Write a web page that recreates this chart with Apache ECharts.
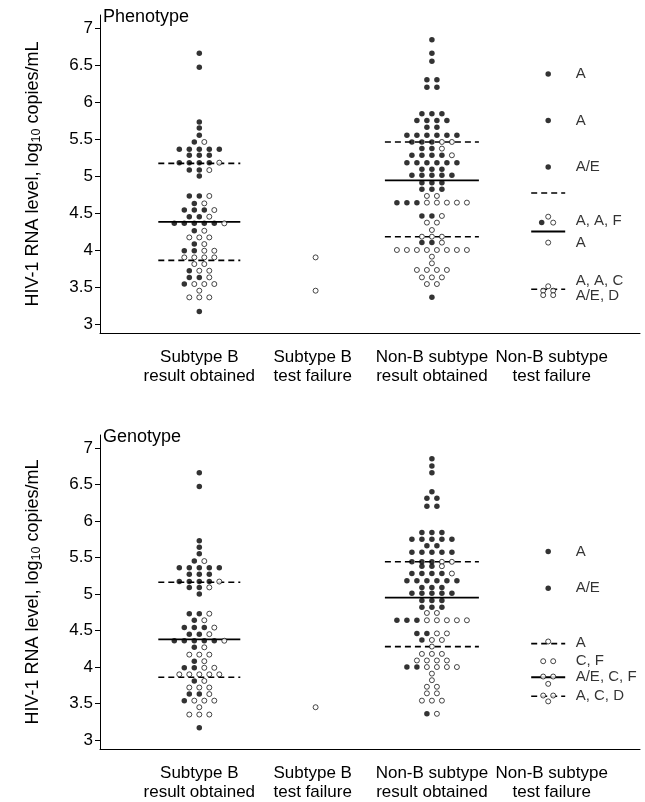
<!DOCTYPE html>
<html><head><meta charset="utf-8">
<script src="https://cdn.jsdelivr.net/npm/echarts@6/dist/echarts.min.js"></script>
<style>html,body{margin:0;padding:0;background:#fff}#c{width:645px;height:802px}</style>
</head><body><div id="c"></div>
<script>
// ---------- DATA ----------
const categories = ['Subtype B\nresult obtained', 'Subtype B\ntest failure', 'Non-B subtype\nresult obtained', 'Non-B subtype\ntest failure'];
const yTicks = [3, 3.5, 4, 4.5, 5, 5.5, 6, 6.5, 7];
const panelTitles = ['Phenotype', 'Genotype'];
// rows: [log10 copies/mL, filled-dot slots, open-dot slots]  (slot = column position in the swarm)
const phenoSubB = [
  [6.66,[0],[]],[6.47,[0],[]],[5.73,[0],[]],[5.65,[0],[]],[5.55,[0],[]],[5.46,[-1],[1]],
  [5.36,[-4,-2,0,2,4],[]],[5.28,[-2,0,2],[]],[5.18,[-4,-2,0,2],[4]],[5.08,[-2,0],[2]],[5.00,[0],[]],
  [4.73,[-2,0],[2]],[4.63,[-1],[1]],[4.54,[-3,-1,1],[3]],[4.45,[-2,0],[2]],[4.36,[-5,-3,-1,1,3],[5]],
  [4.26,[-1],[1]],[4.17,[],[-2,0,2]],[4.08,[-1],[1]],[3.99,[-3,-1],[1,3]],[3.90,[],[-3,-1,1,3]],
  [3.81,[],[-1,1]],[3.72,[-2],[0,2]],[3.63,[-2,0],[2]],[3.54,[-3],[-1,1,3]],[3.45,[],[0]],
  [3.36,[],[-2,0,2]],[3.17,[0],[]]
];
const phenoSubBFail = [[3.90,[],[0]],[3.45,[],[0]]];
const phenoNonB = [
  [6.84,[0],[]],[6.66,[0],[]],[6.55,[0],[]],[6.30,[-1,1],[]],[6.20,[-1,1],[]],
  [5.84,[-2,0,2],[]],[5.75,[-3,-1,1,3],[]],[5.66,[-1,1],[]],[5.55,[-5,-3,-1,1,3,5],[]],
  [5.46,[-4,-2,0],[2,4]],[5.37,[-2,0],[2]],[5.28,[-4,-2,0,2],[4]],[5.18,[-5,-3,-1,1,3,5],[]],
  [5.09,[-2,0,2],[]],[5.01,[-4,-2,0,2,4],[]],[4.91,[-2,0,2],[]],[4.82,[-2,0,2],[]],[4.73,[],[-1,1]],
  [4.64,[-7,-5,-3],[-1,1,3,5,7]],[4.46,[-2,0],[2]],[4.37,[],[-1,1]],[4.27,[],[0]],[4.18,[],[-2,0,2]],
  [4.10,[-2,0],[2]],[4.00,[],[-7,-5,-3,-1,1,3,5,7]],[3.91,[],[0]],[3.82,[],[0]],[3.73,[],[-3,-1,1,3]],
  [3.63,[],[-2,0,2]],[3.54,[],[-1,1]],[3.36,[0],[]]
];
const phenoNonBFail = [
  [6.38,[0],[]],[5.75,[0],[]],[5.12,[0],[]],[4.45,[],[0]],[4.37,[-1.3],[1]],[4.10,[],[0]],
  [3.51,[],[0]],[3.45,[],[-1,1]],[3.39,[],[-1,1]]
];
const genoSubB = [
  [6.66,[0],[]],[6.47,[0],[]],[5.73,[0],[]],[5.64,[0],[]],[5.55,[0],[]],[5.45,[-1],[1]],
  [5.36,[-4,-2,0,2,4],[]],[5.27,[-2,0,2],[]],[5.17,[-4,-2,0,2],[4]],[5.09,[-2,0],[2]],[5.00,[0],[]],
  [4.73,[-2,0],[2]],[4.64,[-1],[1]],[4.54,[-3,-1,1],[3]],[4.45,[-2,0],[2]],[4.36,[-5,-3,-1,1,3],[5]],
  [4.27,[-1],[1]],[4.17,[],[-2,0,2]],[4.08,[-1],[1]],[3.99,[-3,-1],[1,3]],[3.90,[],[-4,-2,0,2,4]],
  [3.81,[-1],[1]],[3.72,[],[-2,0,2]],[3.63,[-2,0],[2]],[3.54,[-3],[-1,1,3]],[3.45,[],[0]],
  [3.35,[],[-2,0,2]],[3.17,[0],[]]
];
const genoSubBFail = [[3.45,[],[0]]];
const genoNonB = [
  [6.85,[0],[]],[6.75,[0],[]],[6.66,[0],[]],[6.40,[0],[]],[6.31,[-1,1],[]],[6.20,[-1,1],[]],
  [5.84,[-2,0,2],[]],[5.75,[-4,-2,0,2,4],[]],[5.66,[-1,1],[]],[5.57,[-4,-2,0,2,4],[]],
  [5.44,[-4,-2,0],[2,4]],[5.38,[-2,0],[2]],[5.28,[-4,-2,0,2],[4]],[5.18,[-5,-3,-1,1,3,5],[]],
  [5.09,[-2,0,2],[]],[5.01,[-4,-2,0,2,4],[]],[4.91,[-2,0,2],[]],[4.82,[-2,0,2],[]],[4.74,[],[-1,1]],
  [4.64,[-7,-5,-3],[-1,1,3,5,7]],[4.46,[-3,-1],[1,3]],[4.37,[-2],[0,2]],[4.28,[],[0]],[4.18,[],[-2,0,2]],
  [4.09,[],[-3,-1,1,3]],[4.00,[-5,-3],[-1,1,3,5]],[3.91,[],[0]],[3.82,[],[0]],[3.73,[],[-1,1]],
  [3.64,[],[-1,1]],[3.54,[],[-2,0,2]],[3.36,[-1],[1]]
];
const genoNonBFail = [
  [5.58,[0],[]],[5.08,[0],[]],[4.35,[],[0]],[4.08,[],[-1,1]],[3.87,[],[-1,1]],[3.77,[],[0]],
  [3.61,[],[-1,1]],[3.53,[],[0]]
];
// summary lines: [group, upper quartile, median, lower quartile]
const phenoLines = [[1,5.17,4.38,3.86],[3,5.46,4.94,4.18],[4,4.77,4.25,3.47]];
const genoLines = [[1,5.16,4.38,3.86],[3,5.44,4.95,4.28],[4,4.32,3.86,3.60]];
// subtype notes for the non-B test failures: [value, text]
const phenoNotes = [[6.38,'A'],[5.75,'A'],[5.12,'A/E'],[4.39,'A, A, F'],[4.10,'A'],[3.58,'A, A, C'],[3.38,'A/E, D']];
const genoNotes = [[5.58,'A'],[5.08,'A/E'],[4.33,'A'],[4.08,'C, F'],[3.86,'A/E, C, F'],[3.60,'A, C, D']];

// ---------- LAYOUT ----------
const FONT = '"Liberation Sans", Arial, Helvetica, sans-serif';
const PX_PER_GROUP = 116.3;
const SLOT = 5 / PX_PER_GROUP;
const XMIN = 1 - 99.3 / PX_PER_GROUP;
const XMAX = XMIN + 540 / PX_PER_GROUP;
const YMIN = 3 - 9 / 74, YMAX = 7 + 13 / 74;
const LINE_HALF_PX = {1: 41, 3: 47, 4: 17};
const NOTE_OFFSET_PX = 27;
const LABEL_POS = [1, 1.975, 3, 4.03];

const panels = [
  {title: panelTitles[0], top: 15, groups: [[1,phenoSubB],[2,phenoSubBFail],[3,phenoNonB],[4,phenoNonBFail]], lines: phenoLines, notes: phenoNotes},
  {title: panelTitles[1], top: 435, groups: [[1,genoSubB],[2,genoSubBFail],[3,genoNonB],[4,genoNonBFail]], lines: genoLines, notes: genoNotes}
];

function dots(groups, idx) {
  const out = [];
  groups.forEach(([g, rows]) => rows.forEach(r => r[idx].forEach(s => out.push([g + s * SLOT, r[0]]))));
  return out;
}

const grid = [], xAxis = [], yAxis = [], title = [], series = [];
panels.forEach((p, i) => {
  grid.push({left: 100, top: p.top, width: 540, height: 318});
  title.push({text: p.title, left: 103, top: p.top - 7, padding: 0,
    textStyle: {fontSize: 18, fontWeight: 'normal', color: '#000', fontFamily: FONT}});
  xAxis.push({type: 'value', gridIndex: i, min: XMIN, max: XMAX,
    axisLine: {show: true, lineStyle: {color: '#000', width: 1}},
    axisTick: {show: false}, splitLine: {show: false},
    axisLabel: {customValues: LABEL_POS, formatter: v => categories[Math.round(v) - 1] || '',
      fontSize: 17, lineHeight: 19, color: '#000', fontFamily: FONT, margin: 15}});
  yAxis.push({type: 'value', gridIndex: i, min: YMIN, max: YMAX,
    axisLine: {show: true, lineStyle: {color: '#000', width: 1}},
    axisTick: {show: true, length: 5, customValues: yTicks, lineStyle: {color: '#000'}},
    splitLine: {show: false},
    axisLabel: {customValues: yTicks, formatter: v => String(+(+v).toFixed(1)), fontSize: 17, color: '#000', fontFamily: FONT, margin: 7},
    name: 'HIV-1 RNA level, log{s|10} copies/mL', nameLocation: 'middle', nameRotate: 90, nameGap: 57,
    nameTextStyle: {fontSize: 18, color: '#000', fontFamily: FONT,
      rich: {s: {fontSize: 12.5, color: '#000', fontFamily: FONT, verticalAlign: 'bottom', padding: [6,0,0,0]}}}});
  p.lines.forEach(([g, up, med, lo]) => {
    const hw = LINE_HALF_PX[g] / PX_PER_GROUP;
    [[up,'dashed'],[med,'solid'],[lo,'dashed']].forEach(([v, st]) => {
      series.push({type: 'line', xAxisIndex: i, yAxisIndex: i, silent: true, symbol: 'none', z: 2,
        data: [[g - hw, v], [g + hw, v]],
        lineStyle: {color: '#000', width: st === 'solid' ? 1.8 : 1.6, type: st === 'solid' ? 'solid' : [6, 4]}});
    });
  });
  series.push({type: 'scatter', xAxisIndex: i, yAxisIndex: i, silent: true, z: 3,
    data: dots(p.groups, 1), symbol: 'circle', symbolSize: 5.5, itemStyle: {color: '#000'}});
  series.push({type: 'scatter', xAxisIndex: i, yAxisIndex: i, silent: true, z: 4,
    data: dots(p.groups, 2), symbol: 'circle', symbolSize: 5, itemStyle: {color: '#fff', borderColor: '#000', borderWidth: 0.9}});
  series.push({type: 'scatter', xAxisIndex: i, yAxisIndex: i, silent: true, z: 5,
    data: p.notes.map(([v, t]) => ({value: [4 + NOTE_OFFSET_PX / PX_PER_GROUP, v], name: t})),
    symbolSize: 1, itemStyle: {color: 'rgba(0,0,0,0)'},
    label: {show: true, position: 'right', distance: 0, formatter: d => d.name, fontSize: 15, color: '#000', fontFamily: FONT}});
});

const chart = echarts.init(document.getElementById('c'), null, {renderer: 'canvas'});
chart.setOption({animation: false, backgroundColor: '#fff', title, grid, xAxis, yAxis, series});
</script></body></html>
